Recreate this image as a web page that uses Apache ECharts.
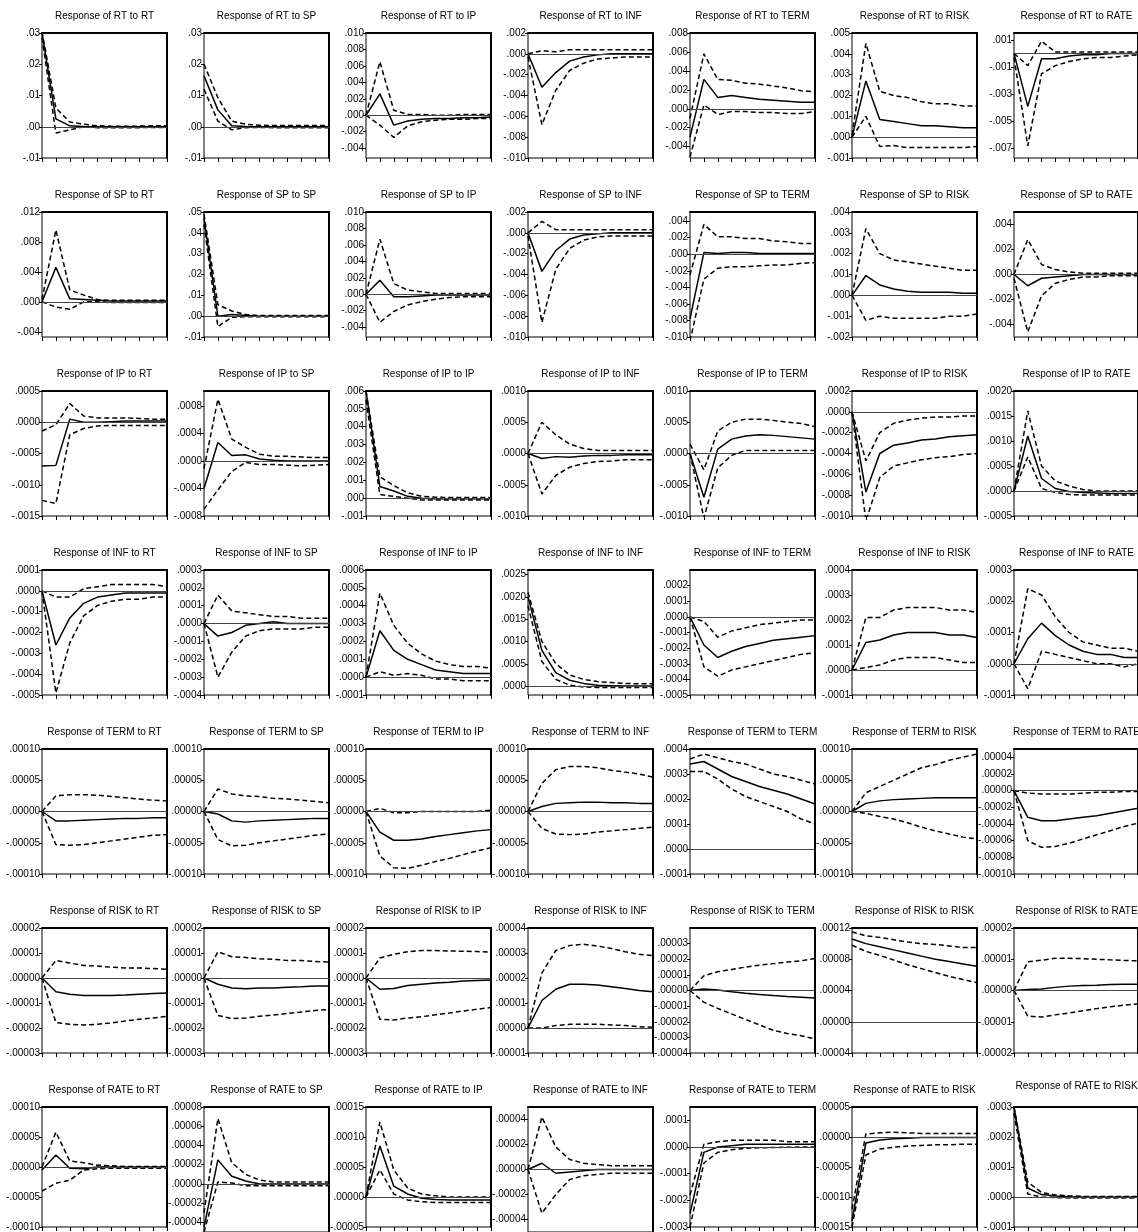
<!DOCTYPE html>
<html><head><meta charset="utf-8">
<script src="https://cdn.jsdelivr.net/npm/echarts@6/dist/echarts.min.js"></script>
<style>html,body{margin:0;padding:0;background:#fff}#c{width:1138px;height:1232px}</style>
</head><body><div id="c"></div>
<script>
const PERIODS = [1,2,3,4,5,6,7,8,9,10];
const VARS = ['RT','SP','IP','INF','TERM','RISK','RATE'];
const TITLE_OVERRIDE = {'6,6':'Response of RATE to RISK'};

// ---- Response of RT ----
const RT_range = [[-0.01,0.03],[-0.01,0.03],[-0.0052,0.010],[-0.010,0.002],[-0.0052,0.008],[-0.001,0.005],[-0.0077,0.0015]];
const RT_ticks = [[-0.01,0,0.01,0.02,0.03],[-0.01,0,0.01,0.02,0.03],[-0.004,-0.002,0,0.002,0.004,0.006,0.008,0.010],[-0.010,-0.008,-0.006,-0.004,-0.002,0,0.002],[-0.004,-0.002,0,0.002,0.004,0.006,0.008],[-0.001,0,0.001,0.002,0.003,0.004,0.005],[-0.007,-0.005,-0.003,-0.001,0.001]];
const RT_dec = [2,2,3,3,3,3,3];
const RT_mid = [
 [0.030,0.0025,0.0003,0.0001,0,0,0,0,0,0],
 [0.0163,0.0054,0.0003,0.0001,0,0,0,0,0,0],
 [0,0.0026,-0.0012,-0.0007,-0.0005,-0.0004,-0.0004,-0.0003,-0.0003,-0.0002],
 [0,-0.0032,-0.0018,-0.0007,-0.0003,-0.0001,0,0,0,0],
 [-0.0030,0.0031,0.0012,0.0014,0.0012,0.0010,0.0009,0.0008,0.0007,0.0007],
 [0,0.0027,0.00085,0.00075,0.00065,0.00055,0.00055,0.0005,0.00045,0.00045],
 [0,-0.0039,-0.0004,-0.0004,-0.0002,-0.0001,-0.0001,0,0,0]];
const RT_up = [
 [0.0305,0.006,0.0015,0.0008,0.0003,0.0002,0.0002,0.0002,0.0003,0.0003],
 [0.020,0.0093,0.0018,0.0008,0.0005,0.0004,0.0004,0.0004,0.0004,0.0004],
 [0,0.0065,0.0006,0.0001,0.0001,0,0,0.0001,0.0001,0.0001],
 [0,0.0003,0.0002,0.0004,0.0004,0.0004,0.0004,0.0004,0.0004,0.0004],
 [-0.0010,0.0058,0.0031,0.0030,0.0027,0.0026,0.0024,0.0022,0.0019,0.0018],
 [0.0001,0.0045,0.0022,0.0020,0.0019,0.0017,0.0016,0.0016,0.0015,0.0015],
 [0,-0.0009,0.0009,0.0001,0.0001,0.0001,0.0001,0.0001,0.0001,0.0001]];
const RT_lo = [
 [0.0285,-0.002,-0.001,0,-0.0003,-0.0003,-0.0003,-0.0003,-0.0002,-0.0002],
 [0.012,0.0018,-0.001,-0.0003,-0.0002,-0.0003,-0.0003,-0.0003,-0.0003,-0.0003],
 [0,-0.0012,-0.0027,-0.0013,-0.0008,-0.0006,-0.0005,-0.0005,-0.0004,-0.0004],
 [-0.0003,-0.0068,-0.0035,-0.0016,-0.0009,-0.0005,-0.0004,-0.0003,-0.0003,-0.0003],
 [-0.0051,0.0004,-0.0006,-0.0003,-0.0003,-0.0004,-0.0004,-0.0005,-0.0005,-0.0003],
 [0,0.0010,-0.00045,-0.0004,-0.0005,-0.0005,-0.0005,-0.0005,-0.0005,-0.00045],
 [-0.0003,-0.0068,-0.0015,-0.0009,-0.0006,-0.0004,-0.0003,-0.0003,-0.0002,-0.0001]];

// ---- Response of SP ----
const SP_range = [[-0.0047,0.012],[-0.01,0.05],[-0.0052,0.010],[-0.010,0.002],[-0.010,0.0051],[-0.002,0.004],[-0.005,0.005]];
const SP_ticks = [[-0.004,0,0.004,0.008,0.012],[-0.01,0,0.01,0.02,0.03,0.04,0.05],[-0.004,-0.002,0,0.002,0.004,0.006,0.008,0.010],[-0.010,-0.008,-0.006,-0.004,-0.002,0,0.002],[-0.010,-0.008,-0.006,-0.004,-0.002,0,0.002,0.004],[-0.002,-0.001,0,0.001,0.002,0.003,0.004],[-0.004,-0.002,0,0.002,0.004]];
const SP_dec = [3,2,3,3,3,3,3];
const SP_mid = [
 [0,0.0046,0.0004,0.0003,0.0002,0.0001,0.0001,0.0001,0.0001,0.0001],
 [0.047,0,0.0008,0.0003,0,0,0,0,0,0],
 [0,0.0017,-0.0003,-0.0003,-0.0002,-0.0001,-0.0001,-0.0001,-0.0001,-0.0001],
 [0,-0.0037,-0.0017,-0.0006,-0.0002,-0.0001,0,0,0,0],
 [-0.0078,0.0002,0.0001,0.0002,0.0002,0.0001,0.0001,0.0001,0.0001,0.0001],
 [0,0.00095,0.0005,0.0003,0.0002,0.00015,0.00015,0.00015,0.0001,0.0001],
 [0,-0.0009,-0.0003,-0.0002,-0.0001,0,0,0,0,0]];
const SP_up = [
 [0.0003,0.0096,0.0016,0.0009,0.0003,0.0002,0.0002,0.0002,0.0002,0.0002],
 [0.049,0.0055,0.0025,0.0008,0.0003,0.0003,0.0003,0.0003,0.0003,0.0003],
 [0,0.0067,0.0013,0.0005,0.0003,0.0001,0.0001,0.0001,0.0001,0.0001],
 [0,0.0011,0.0003,0.0003,0.0003,0.0003,0.0003,0.0003,0.0003,0.0003],
 [-0.0025,0.0036,0.0021,0.0021,0.0019,0.0019,0.0016,0.0015,0.0013,0.0013],
 [0,0.0032,0.0020,0.0017,0.0016,0.0015,0.0014,0.0013,0.0012,0.0012],
 [0,0.0028,0.0008,0.0004,0.0002,0.0001,0.0001,0.0001,0.0001,0.0001]];
const SP_lo = [
 [0,-0.0007,-0.0010,0,0,-0.0001,-0.0001,-0.0001,-0.0001,-0.0001],
 [0.044,-0.005,-0.0005,-0.0003,-0.0003,-0.0003,-0.0003,-0.0003,-0.0003,-0.0003],
 [0,-0.0034,-0.0021,-0.0013,-0.0009,-0.0006,-0.0004,-0.0003,-0.0003,-0.0003],
 [-0.0003,-0.0086,-0.0035,-0.0015,-0.0007,-0.0004,-0.0003,-0.0003,-0.0003,-0.0003],
 [-0.0105,-0.0030,-0.0017,-0.0015,-0.0015,-0.0014,-0.0013,-0.0013,-0.0011,-0.0010],
 [0,-0.0012,-0.0010,-0.0011,-0.0011,-0.0011,-0.0011,-0.0010,-0.0010,-0.0009],
 [-0.0003,-0.0046,-0.0017,-0.0007,-0.0004,-0.0002,-0.0002,-0.0001,-0.0001,-0.0001]];

// ---- Response of IP ----
const IP_range = [[-0.0015,0.0005],[-0.0008,0.00102],[-0.001,0.006],[-0.001,0.001],[-0.001,0.001],[-0.001,0.0002],[-0.0005,0.002]];
const IP_ticks = [[-0.0015,-0.001,-0.0005,0,0.0005],[-0.0008,-0.0004,0,0.0004,0.0008],[-0.001,0,0.001,0.002,0.003,0.004,0.005,0.006],[-0.001,-0.0005,0,0.0005,0.001],[-0.001,-0.0005,0,0.0005,0.001],[-0.001,-0.0008,-0.0006,-0.0004,-0.0002,0,0.0002],[-0.0005,0,0.0005,0.001,0.0015,0.002]];
const IP_dec = [4,4,3,4,4,4,4];
const IP_mid = [
 [-0.0007,-0.00069,0.00005,0,0,0.00001,0.00002,0.00002,0.00002,0.00002],
 [-0.0004,0.00027,0.00008,0.00009,0.00003,0.00001,0,0,0,0],
 [0.006,0.00065,0.0004,0.0001,0,-0.00003,-0.00003,-0.00003,-0.00003,-0.00003],
 [0,-0.00008,-0.00005,-0.00006,-0.00004,-0.00003,-0.00003,-0.00002,-0.00002,-0.00002],
 [0,-0.0007,0.00007,0.00023,0.00028,0.0003,0.00029,0.00027,0.00025,0.00023],
 [0,-0.00077,-0.0004,-0.00032,-0.0003,-0.00027,-0.00026,-0.00024,-0.00023,-0.00022],
 [0,0.0011,0.00025,0.00005,-0.00001,-0.00003,-0.00004,-0.00005,-0.00005,-0.00005]];
const IP_up = [
 [-0.00014,-0.00004,0.0003,0.0001,0.00007,0.00007,0.00007,0.00006,0.00005,0.00005],
 [-0.00011,0.0009,0.00032,0.0002,0.0001,0.00007,0.00007,0.00006,0.00005,0.00005],
 [0.006,0.0012,0.0007,0.0003,0.0001,0.00005,0.00003,0.00003,0.00003,0.00003],
 [0,0.0005,0.0003,0.00015,0.00008,0.00005,0.00005,0.00005,0.00005,0.00005],
 [0.00015,-0.00026,0.00036,0.0005,0.00055,0.00055,0.00053,0.0005,0.00048,0.00043],
 [0,-0.00047,-0.0002,-0.00011,-0.00008,-0.00006,-0.00005,-0.00005,-0.00004,-0.00004],
 [0,0.0016,0.0005,0.0002,0.0001,0.00003,0,0,0,0]];
const IP_lo = [
 [-0.00125,-0.0013,-0.0002,-0.0001,-0.00006,-0.00005,-0.00005,-0.00005,-0.00005,-0.00005],
 [-0.0007,-0.00042,-0.00015,-0.00002,-0.00005,-0.00005,-0.00006,-0.00007,-0.00006,-0.00005],
 [0.0055,0.0002,0.0001,0,-0.0001,-0.0001,-0.0001,-0.0001,-0.0001,-0.0001],
 [0,-0.00065,-0.00035,-0.00022,-0.00016,-0.00013,-0.00012,-0.0001,-0.0001,-0.0001],
 [0,-0.00103,-0.00023,-0.00003,0.00005,0.00005,0.00005,0.00005,0.00005,0.00005],
 [0,-0.00105,-0.00063,-0.00052,-0.00049,-0.00046,-0.00044,-0.00043,-0.00041,-0.0004],
 [0,0.00068,0.00005,-0.00003,-0.00007,-0.00008,-0.00008,-0.00008,-0.00008,-0.00008]];

// ---- Response of INF ----
const INF_range = [[-0.0005,0.0001],[-0.0004,0.0003],[-0.0001,0.0006],[-0.0002,0.0026],[-0.0005,0.0003],[-0.0001,0.0004],[-0.0001,0.0003]];
const INF_ticks = [[-0.0005,-0.0004,-0.0003,-0.0002,-0.0001,0,0.0001],[-0.0004,-0.0003,-0.0002,-0.0001,0,0.0001,0.0002,0.0003],[-0.0001,0,0.0001,0.0002,0.0003,0.0004,0.0005,0.0006],[0,0.0005,0.001,0.0015,0.002,0.0025],[-0.0005,-0.0004,-0.0003,-0.0002,-0.0001,0,0.0001,0.0002],[-0.0001,0,0.0001,0.0002,0.0003,0.0004],[-0.0001,0,0.0001,0.0002,0.0003]];
const INF_dec = [4,4,4,4,4,4,4];
const INF_mid = [
 [0,-0.00026,-0.00013,-0.00006,-0.00003,-0.00002,-0.00001,-0.00001,-0.00001,-0.00001],
 [0,-0.00007,-0.00005,-0.00001,0,0.00001,0,0,0,0],
 [0,0.00026,0.00015,0.0001,0.00007,0.00004,0.00003,0.00002,0.00002,0.00002],
 [0.002,0.0008,0.0003,0.00013,0.00006,0.00002,0.00001,0,0,0],
 [0,-0.00018,-0.00026,-0.00022,-0.00019,-0.00017,-0.00015,-0.00014,-0.00013,-0.00012],
 [0,0.00011,0.00012,0.00014,0.00015,0.00015,0.00015,0.00014,0.00014,0.00013],
 [0,0.00008,0.00013,0.00009,0.00006,0.00004,0.00003,0.00003,0.00002,0.00002]];
const INF_up = [
 [0,-0.00003,-0.00003,0.00001,0.00002,0.00003,0.00003,0.00003,0.00003,0.00002],
 [0,0.00016,0.00007,0.00006,0.00005,0.00004,0.00004,0.00003,0.00003,0.00003],
 [0,0.00047,0.00029,0.00019,0.00013,0.00009,0.00007,0.00006,0.00006,0.00005],
 [0.0021,0.001,0.0005,0.00025,0.00015,0.0001,0.00008,0.00006,0.00005,0.00005],
 [0,-0.00003,-0.00013,-0.00009,-0.00007,-0.00005,-0.00004,-0.00003,-0.00002,-0.00002],
 [0,0.00021,0.00021,0.00024,0.00025,0.00025,0.00025,0.00024,0.00024,0.00023],
 [0,0.00024,0.00022,0.00015,0.0001,0.00007,0.00006,0.00005,0.00005,0.00004]];
const INF_lo = [
 [0,-0.00049,-0.00025,-0.00012,-0.00007,-0.00005,-0.00004,-0.00004,-0.00003,-0.00003],
 [0,-0.0003,-0.00016,-0.00007,-0.00004,-0.00003,-0.00003,-0.00003,-0.00002,-0.00002],
 [0,0.00003,0.00001,0.00002,0.00001,-0.00001,-0.00001,-0.00002,-0.00002,-0.00002],
 [0.0018,0.00055,0.00015,0.00002,-0.00002,-0.00003,-0.00003,-0.00003,-0.00003,-0.00003],
 [0,-0.00032,-0.00038,-0.00034,-0.00032,-0.0003,-0.00028,-0.00026,-0.00024,-0.00023],
 [0,0.00001,0.00002,0.00004,0.00005,0.00005,0.00005,0.00004,0.00003,0.00003],
 [0,-0.00008,0.00004,0.00003,0.00002,0.00001,0,0,-0.00001,0]];

// ---- Response of TERM ----
const TERM_range = [[-0.0001,0.0001],[-0.0001,0.0001],[-0.0001,0.0001],[-0.0001,0.0001],[-0.0001,0.0004],[-0.0001,0.0001],[-0.0001,0.00005]];
const TERM_ticks = [[-0.0001,-0.00005,0,0.00005,0.0001],[-0.0001,-0.00005,0,0.00005,0.0001],[-0.0001,-0.00005,0,0.00005,0.0001],[-0.0001,-0.00005,0,0.00005,0.0001],[-0.0001,0,0.0001,0.0002,0.0003,0.0004],[-0.0001,-0.00005,0,0.00005,0.0001],[-0.0001,-0.00008,-0.00006,-0.00004,-0.00002,0,0.00002,0.00004]];
const TERM_dec = [5,5,5,5,4,5,5];
const TERM_mid = [
 [0,-0.000015,-0.000015,-0.000014,-0.000013,-0.000012,-0.000011,-0.000011,-0.00001,-0.00001],
 [0,-0.000004,-0.000015,-0.000017,-0.000015,-0.000014,-0.000013,-0.000012,-0.000011,-0.000011],
 [0,-0.000033,-0.000046,-0.000046,-0.000044,-0.00004,-0.000037,-0.000034,-0.000031,-0.000029],
 [0,0.000008,0.000013,0.000014,0.000015,0.000015,0.000014,0.000014,0.000013,0.000013],
 [0.00034,0.00035,0.00032,0.00029,0.00027,0.00025,0.000235,0.00022,0.0002,0.00018],
 [0,0.000013,0.000017,0.000019,0.00002,0.000021,0.000022,0.000022,0.000022,0.000022],
 [0,-0.000032,-0.000036,-0.000036,-0.000034,-0.000032,-0.00003,-0.000027,-0.000024,-0.000021]];
const TERM_up = [
 [0,0.000025,0.000027,0.000027,0.000026,0.000024,0.000022,0.00002,0.000018,0.000017],
 [0,0.000036,0.000028,0.000025,0.000024,0.000021,0.00002,0.000018,0.000016,0.000014],
 [0,0.000005,-0.000002,-0.000002,0,0,0,0,0,0.000002],
 [0,0.000045,0.000067,0.000072,0.000072,0.00007,0.000066,0.000063,0.00006,0.000055],
 [0.00036,0.00038,0.000365,0.00035,0.00034,0.00032,0.0003,0.00029,0.000275,0.00026],
 [0,0.00003,0.00004,0.00005,0.00006,0.00007,0.000075,0.000082,0.000087,0.000092],
 [0,-0.000003,-0.000004,-0.000004,-0.000004,-0.000003,-0.000002,-0.000002,-0.000001,-0.000001]];
const TERM_lo = [
 [0,-0.000053,-0.000054,-0.000053,-0.00005,-0.000047,-0.000044,-0.000041,-0.000038,-0.000037],
 [0,-0.000045,-0.000055,-0.000054,-0.00005,-0.000047,-0.000044,-0.000041,-0.000038,-0.000036],
 [0,-0.000071,-0.00009,-0.000091,-0.000086,-0.00008,-0.000075,-0.000069,-0.000063,-0.000058],
 [0,-0.000027,-0.000036,-0.000037,-0.000036,-0.000033,-0.000031,-0.000029,-0.000027,-0.000025],
 [0.00031,0.00031,0.00028,0.00024,0.00021,0.00019,0.00017,0.00015,0.00012,0.0001],
 [0,-0.000003,-0.000008,-0.000012,-0.000018,-0.000025,-0.000031,-0.000036,-0.000041,-0.000044],
 [0,-0.00006,-0.000068,-0.000067,-0.000063,-0.000058,-0.000053,-0.000048,-0.000043,-0.000039]];

// ---- Response of RISK ----
const RISK_range = [[-0.00003,0.00002],[-0.00003,0.00002],[-0.00003,0.00002],[-0.00001,0.00004],[-0.00004,0.00004],[-0.00004,0.00012],[-0.00002,0.00002]];
const RISK_ticks = [[-0.00003,-0.00002,-0.00001,0,0.00001,0.00002],[-0.00003,-0.00002,-0.00001,0,0.00001,0.00002],[-0.00003,-0.00002,-0.00001,0,0.00001,0.00002],[-0.00001,0,0.00001,0.00002,0.00003,0.00004],[-0.00004,-0.00003,-0.00002,-0.00001,0,0.00001,0.00002,0.00003],[-0.00004,0,0.00004,0.00008,0.00012],[-0.00002,-0.00001,0,0.00001,0.00002]];
const RISK_dec = [5,5,5,5,5,5,5];
const RISK_mid = [
 [0,-0.0000055,-0.0000065,-0.000007,-0.000007,-0.000007,-0.0000068,-0.0000065,-0.0000062,-0.000006],
 [0,-0.0000025,-0.000004,-0.0000043,-0.000004,-0.000004,-0.0000037,-0.0000035,-0.0000032,-0.0000032],
 [0,-0.0000045,-0.0000042,-0.000003,-0.0000025,-0.000002,-0.0000017,-0.0000012,-0.000001,-0.0000008],
 [0,0.000011,0.0000155,0.0000175,0.0000175,0.0000172,0.0000165,0.0000158,0.000015,0.0000145],
 [0,0.000001,0.0000003,-0.0000008,-0.0000018,-0.0000025,-0.0000032,-0.0000038,-0.0000043,-0.0000048],
 [0.000106,0.0001,0.000096,0.000092,0.000088,0.000084,0.00008,0.000077,0.000074,0.000071],
 [0,0.0000003,0.0000005,0.000001,0.0000014,0.0000016,0.0000017,0.0000019,0.000002,0.000002]];
const RISK_up = [
 [0,0.000007,0.000006,0.000005,0.0000048,0.0000043,0.000004,0.000004,0.0000038,0.0000035],
 [0,0.0000105,0.0000085,0.0000082,0.0000077,0.0000075,0.000007,0.000007,0.0000066,0.0000064],
 [0,0.000008,0.0000095,0.0000105,0.000011,0.000011,0.0000108,0.0000107,0.0000106,0.0000103],
 [0,0.000022,0.000031,0.000033,0.0000335,0.0000328,0.0000318,0.0000305,0.0000295,0.000029],
 [0,0.0000095,0.000012,0.0000135,0.000015,0.0000162,0.0000172,0.0000182,0.000019,0.0000205],
 [0.000115,0.00011,0.000108,0.000105,0.000102,0.0001,0.000099,0.000097,0.000095,0.000095],
 [0,0.0000092,0.0000097,0.0000103,0.0000103,0.0000102,0.00001,0.0000098,0.0000096,0.0000095]];
const RISK_lo = [
 [0,-0.0000178,-0.0000185,-0.0000188,-0.0000185,-0.000018,-0.0000172,-0.0000165,-0.000016,-0.0000153],
 [0,-0.000015,-0.0000162,-0.000016,-0.0000153,-0.0000148,-0.0000142,-0.0000136,-0.000013,-0.0000126],
 [0,-0.0000165,-0.0000168,-0.000016,-0.0000155,-0.0000147,-0.000014,-0.0000132,-0.0000125,-0.0000118],
 [0,0,0.000001,0.0000015,0.0000015,0.0000015,0.0000012,0.000001,0.0000005,0.0000003],
 [0,-0.0000075,-0.0000115,-0.000015,-0.0000185,-0.000022,-0.0000255,-0.0000275,-0.000029,-0.000031],
 [0.000098,0.00009,0.000085,0.000079,0.000073,0.000068,0.000063,0.000058,0.000054,0.00005],
 [0,-0.0000082,-0.0000085,-0.0000078,-0.0000072,-0.0000065,-0.0000058,-0.0000052,-0.0000047,-0.0000043]];

// ---- Response of RATE ----
const RATE_range = [[-0.0001,0.0001],[-0.00005,0.00008],[-0.00005,0.00015],[-0.00005,0.00005],[-0.0003,0.00015],[-0.00015,0.00005],[-0.0001,0.0003]];
const RATE_ticks = [[-0.0001,-0.00005,0,0.00005,0.0001],[-0.00004,-0.00002,0,0.00002,0.00004,0.00006,0.00008],[-0.00005,0,0.00005,0.0001,0.00015],[-0.00004,-0.00002,0,0.00002,0.00004],[-0.0003,-0.0002,-0.0001,0,0.0001],[-0.00015,-0.0001,-0.00005,0,0.00005],[-0.0001,0,0.0001,0.0002,0.0003]];
const RATE_dec = [5,5,5,5,4,5,4];
const RATE_mid = [
 [-0.000005,0.00002,-0.000002,-0.000003,0,0,0,0,0,0],
 [-0.000045,0.000025,0.000008,0.000003,0,0,0,0,0,0],
 [0,0.000085,0.000018,0.000005,-0.000002,-0.000004,-0.000005,-0.000005,-0.000005,-0.000005],
 [0,0.000005,-0.000003,-0.000002,-0.000001,0,0,0,0,0],
 [-0.00025,-0.00002,0,0.000005,0.00001,0.00001,0.00001,0.00001,0.00001,0.00001],
 [-0.00014,-0.00001,-0.000005,-0.000003,-0.000002,-0.000001,-0.000001,-0.000001,-0.000001,-0.000001],
 [0.0003,0.00003,0.000008,0.000003,0.000001,0,0,0,0,0]];
const RATE_up = [
 [0,0.000058,0.00001,0.000007,0.000003,0.000002,0.000001,0.000001,0.000001,0.000001],
 [-0.00003,0.000068,0.000022,0.00001,0.000004,0.000002,0.000002,0.000002,0.000002,0.000002],
 [0,0.000125,0.000045,0.000015,0.000005,0.000002,0,0,0,0],
 [0,0.000042,0.000018,0.000008,0.000005,0.000004,0.000003,0.000003,0.000003,0.000003],
 [-0.00018,0.00001,0.00002,0.000025,0.000025,0.000025,0.000025,0.00002,0.00002,0.00002],
 [-0.00012,0.000005,0.000007,0.000008,0.000007,0.000006,0.000006,0.000006,0.000006,0.000006],
 [0.0003,0.00005,0.000015,0.000007,0.000004,0.000002,0.000002,0.000002,0.000002,0.000002]];
const RATE_lo = [
 [-0.00004,-0.000027,-0.000022,-0.000005,-0.000003,-0.000002,-0.000002,-0.000002,-0.000002,-0.000002],
 [-0.00005,0.000002,0.000001,-0.000002,-0.000002,-0.000002,-0.000002,-0.000002,-0.000002,-0.000002],
 [0,0.000045,0.000005,-0.000005,-0.000008,-0.000009,-0.000009,-0.000009,-0.000009,-0.000009],
 [0,-0.000035,-0.00002,-0.000008,-0.000005,-0.000004,-0.000003,-0.000003,-0.000003,-0.000003],
 [-0.0003,-0.00006,-0.00002,-0.00001,-0.000005,-0.000003,-0.000002,-0.000001,0,0],
 [-0.00015,-0.00003,-0.00002,-0.000017,-0.000015,-0.000014,-0.000013,-0.000013,-0.000012,-0.000012],
 [0.00028,0.00001,0,-0.000002,-0.000003,-0.000003,-0.000003,-0.000003,-0.000003,-0.000003]];

const ROWS = [
 [RT_range,RT_ticks,RT_dec,RT_mid,RT_up,RT_lo],
 [SP_range,SP_ticks,SP_dec,SP_mid,SP_up,SP_lo],
 [IP_range,IP_ticks,IP_dec,IP_mid,IP_up,IP_lo],
 [INF_range,INF_ticks,INF_dec,INF_mid,INF_up,INF_lo],
 [TERM_range,TERM_ticks,TERM_dec,TERM_mid,TERM_up,TERM_lo],
 [RISK_range,RISK_ticks,RISK_dec,RISK_mid,RISK_up,RISK_lo],
 [RATE_range,RATE_ticks,RATE_dec,RATE_mid,RATE_up,RATE_lo]];

// font detection
function hasFont(name){
  const c=document.createElement('canvas').getContext('2d');
  c.font='12px monospace'; const a=c.measureText('Response of RT to RT .00010').width;
  c.font='12px "'+name+'", monospace'; const b=c.measureText('Response of RT to RT .00010').width;
  return Math.abs(a-b)>0.5;
}
const NARROW = hasFont('Liberation Sans Narrow');
const FONT_FAMILY = NARROW ? '"Liberation Sans Narrow"' : '"Liberation Sans", Arial, sans-serif';
const TITLE_SIZE = NARROW ? 12 : 10;
const LABEL_SIZE = NARROW ? 12 : 10;

// layout
const COL_LEFT0 = 42, COL_STEP = 162, PLOT_W = 125;
const ROW_TOP0 = 33, ROW_STEP = 179, PLOT_H = 125, TITLE_GAP = 17;

function fmt(d){
  return function(v){
    let s = Math.abs(v) < 1e-12 ? (0).toFixed(d) : Number(v).toFixed(d);
    return s.replace(/^(-?)0\./,'$1.');
  };
}

const grid=[], xAxis=[], yAxis=[], series=[], graphic=[];
const xFrame=[], yFrame=[];
for(let r=0;r<7;r++){
  const [rng,tks,dec,mid,up,lo]=ROWS[r];
  for(let c=0;c<7;c++){
    const i=r*7+c;
    const left=COL_LEFT0+COL_STEP*c, top=ROW_TOP0+ROW_STEP*r;
    grid.push({left:left, top:top, width:PLOT_W, height:PLOT_H, show:true, borderColor:'#000', borderWidth:1, backgroundColor:'transparent', containLabel:false});
    xAxis.push({type:'category', gridIndex:i, data:PERIODS, boundaryGap:false, position:'bottom',
      axisLine:{show:false, onZero:false}, axisLabel:{show:false, interval:0},
      axisTick:{show:true, interval:0, inside:false, length:4, lineStyle:{color:'#000', width:1}},
      splitLine:{show:false}});
    yAxis.push({type:'value', gridIndex:i, min:rng[c][0], max:rng[c][1], scale:true,
      axisLine:{show:false, onZero:false}, splitLine:{show:false},
      axisTick:{show:true, length:3, customValues:tks[c], lineStyle:{color:'#000', width:1}},
      axisLabel:{show:true, customValues:tks[c], formatter:fmt(dec[c]), margin:2, color:'#000', fontSize:LABEL_SIZE, fontFamily:FONT_FAMILY, showMinLabel:true, showMaxLabel:true}});
    // heavier top and right frame edges
    xFrame.push({type:'category', gridIndex:i, data:PERIODS, boundaryGap:false, position:'top',
      axisLine:{show:true, onZero:false, lineStyle:{color:'#000', width:2}}, axisTick:{show:false}, axisLabel:{show:false}, splitLine:{show:false}});
    yFrame.push({type:'value', gridIndex:i, min:rng[c][0], max:rng[c][1], position:'right',
      axisLine:{show:true, onZero:false, lineStyle:{color:'#000', width:2}}, axisTick:{show:false}, axisLabel:{show:false}, splitLine:{show:false}});
    const base={type:'line', xAxisIndex:i, yAxisIndex:i, symbol:'none', silent:true, animation:false, clip:true};
    series.push(Object.assign({}, base, {data:mid[c], z:3, lineStyle:{color:'#000', width:1.5, type:'solid'},
      markLine:{silent:true, symbol:'none', animation:false, label:{show:false}, lineStyle:{color:'#444', width:1, type:'solid'}, data:[{yAxis:0}]}}));
    series.push(Object.assign({}, base, {data:up[c], z:3, lineStyle:{color:'#000', width:1.5, type:[5,3]}}));
    series.push(Object.assign({}, base, {data:lo[c], z:3, lineStyle:{color:'#000', width:1.5, type:[5,3]}}));
    const title = TITLE_OVERRIDE[r+','+c] || ('Response of '+VARS[r]+' to '+VARS[c]);
    const shift = TITLE_OVERRIDE[r+','+c] ? -4 : 0;
    graphic.push({type:'text', x:left+PLOT_W/2, y:top-TITLE_GAP+shift, silent:true,
      style:{text:title, fill:'#000', font:TITLE_SIZE+'px '+FONT_FAMILY, textAlign:'center', textVerticalAlign:'middle'}});
  }
}

const chart=echarts.init(document.getElementById('c'), null, {renderer:'canvas'});
chart.setOption({animation:false, backgroundColor:'#fff', grid,
  xAxis: xAxis.concat(xFrame), yAxis: yAxis.concat(yFrame), series, graphic});
</script></body></html>
